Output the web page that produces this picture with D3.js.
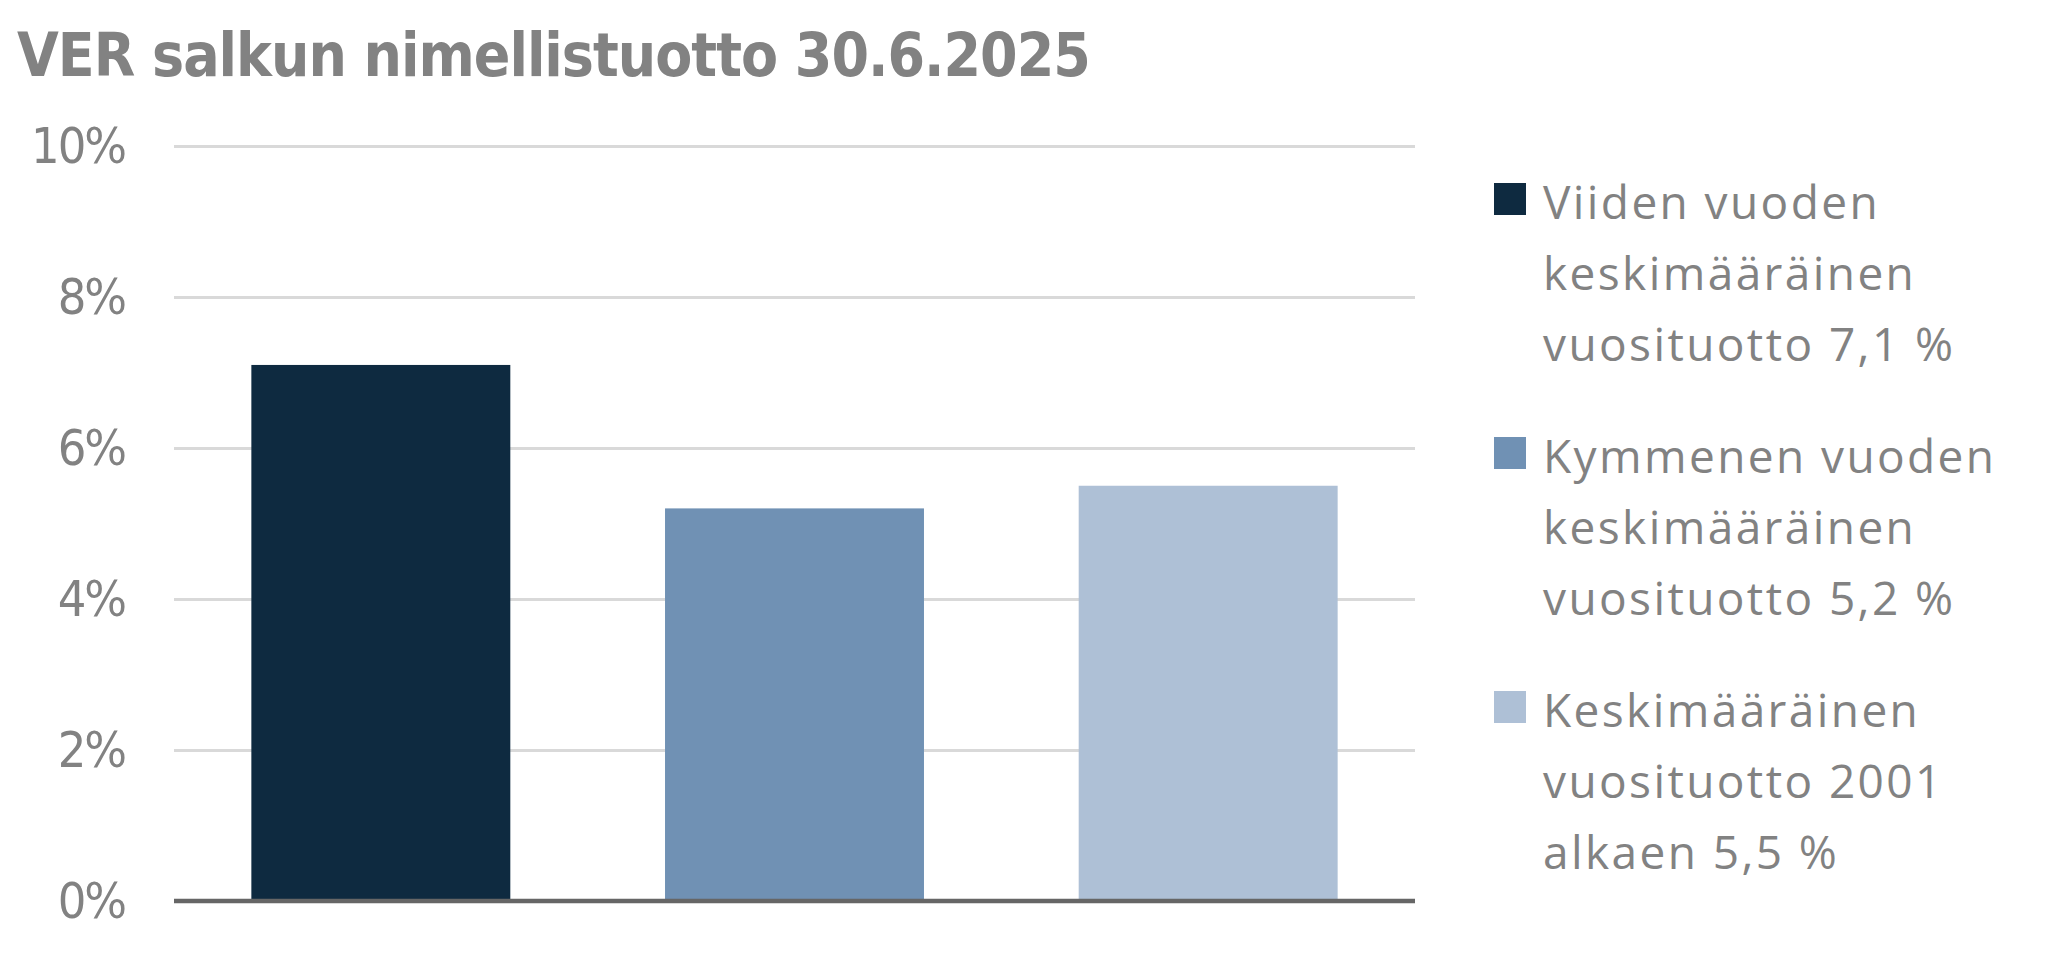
<!DOCTYPE html>
<html>
<head>
<meta charset="utf-8">
<script src="https://cdn.jsdelivr.net/npm/d3@7"></script>
<style>
    body { margin: 0; background: #fff; }
    svg { display: block; }
</style>
</head>
<body>
<div id="chart"><svg width="2058" height="956"></svg></div>
<script>
var title = "VER salkun nimellistuotto 30.6.2025";
var categories = ["five", "ten", "since2001"];
var values = [7.1, 5.2, 5.5];
var colors = ["#0e2a40", "#7091b4", "#aec0d6"];
var legendLines = [
    ["Viiden vuoden", "keskimääräinen", "vuosituotto 7,1 %"],
    ["Kymmenen vuoden", "keskimääräinen", "vuosituotto 5,2 %"],
    ["Keskimääräinen", "vuosituotto 2001", "alkaen 5,5 %"]
];
var yTicks = [0, 2, 4, 6, 8, 10];

var svg = d3.select("#chart").select("svg");
var textColor = "#828282";

svg.append("text")
    .attr("x", 17)
    .attr("y", 76)
    .style("font-family", "'DejaVu Sans Condensed', sans-serif")
    .style("font-weight", "bold")
    .style("font-size", "60px")
    .style("letter-spacing", "-1px")
    .style("fill", textColor)
    .text(title);

var x = d3.scaleBand()
    .domain(categories)
    .range([174, 1415])
    .paddingInner(0.374)
    .paddingOuter(0.187);

var y = d3.scaleLinear()
    .domain([0, 10])
    .range([901, 146]);

var axis = d3.axisLeft(y)
    .tickValues(yTicks)
    .tickSize(-(1415 - 174))
    .tickPadding(49)
    .tickFormat(function (d) {
        return d + "%";
    });

var gAxis = svg.append("g")
    .attr("transform", "translate(174,0)")
    .call(axis);

gAxis.select(".domain").remove();
gAxis.selectAll(".tick line")
    .style("stroke", "#d9d9d9")
    .style("stroke-width", 3);
gAxis.selectAll(".tick text")
    .style("font-family", "'DejaVu Sans Condensed', sans-serif")
    .style("font-size", "50px")
    .style("letter-spacing", "-2px")
    .style("fill", textColor)
    .attr("dy", "0.32em");

svg.selectAll(".bar")
    .data(values)
    .enter().append("rect")
    .classed("bar", true)
    .attr("x", function (d, i) {
        return x(categories[i]);
    })
    .attr("width", x.bandwidth())
    .attr("y", function (d) {
        return y(d);
    })
    .attr("height", function (d) {
        return y(0) - y(d);
    })
    .style("fill", function (d, i) {
        return colors[i];
    });

// baseline
svg.append("line")
    .attr("x1", 174)
    .attr("x2", 1415)
    .attr("y1", y(0))
    .attr("y2", y(0))
    .style("stroke", "#666666")
    .style("stroke-width", 4.5);

// legend
var legend = svg.selectAll(".legend")
    .data(legendLines)
    .enter().append("g")
    .classed("legend", true)
    .attr("transform", function (d, i) {
        return "translate(1494," + (183 + i * 254) + ")";
    });

legend.append("rect")
    .attr("width", 32)
    .attr("height", 32)
    .style("fill", function (d, i) {
        return colors[i];
    });

legend.selectAll("text")
    .data(function (d) {
        return d;
    })
    .enter().append("text")
    .attr("x", 49)
    .attr("y", function (d, i) {
        return 36 + i * 71;
    })
    .style("font-family", "'Open Sans', sans-serif")
    .style("font-size", "46px")
    .style("letter-spacing", "2.4px")
    .style("fill", textColor)
    .text(function (d) {
        return d;
    });
</script>
</body>
</html>
